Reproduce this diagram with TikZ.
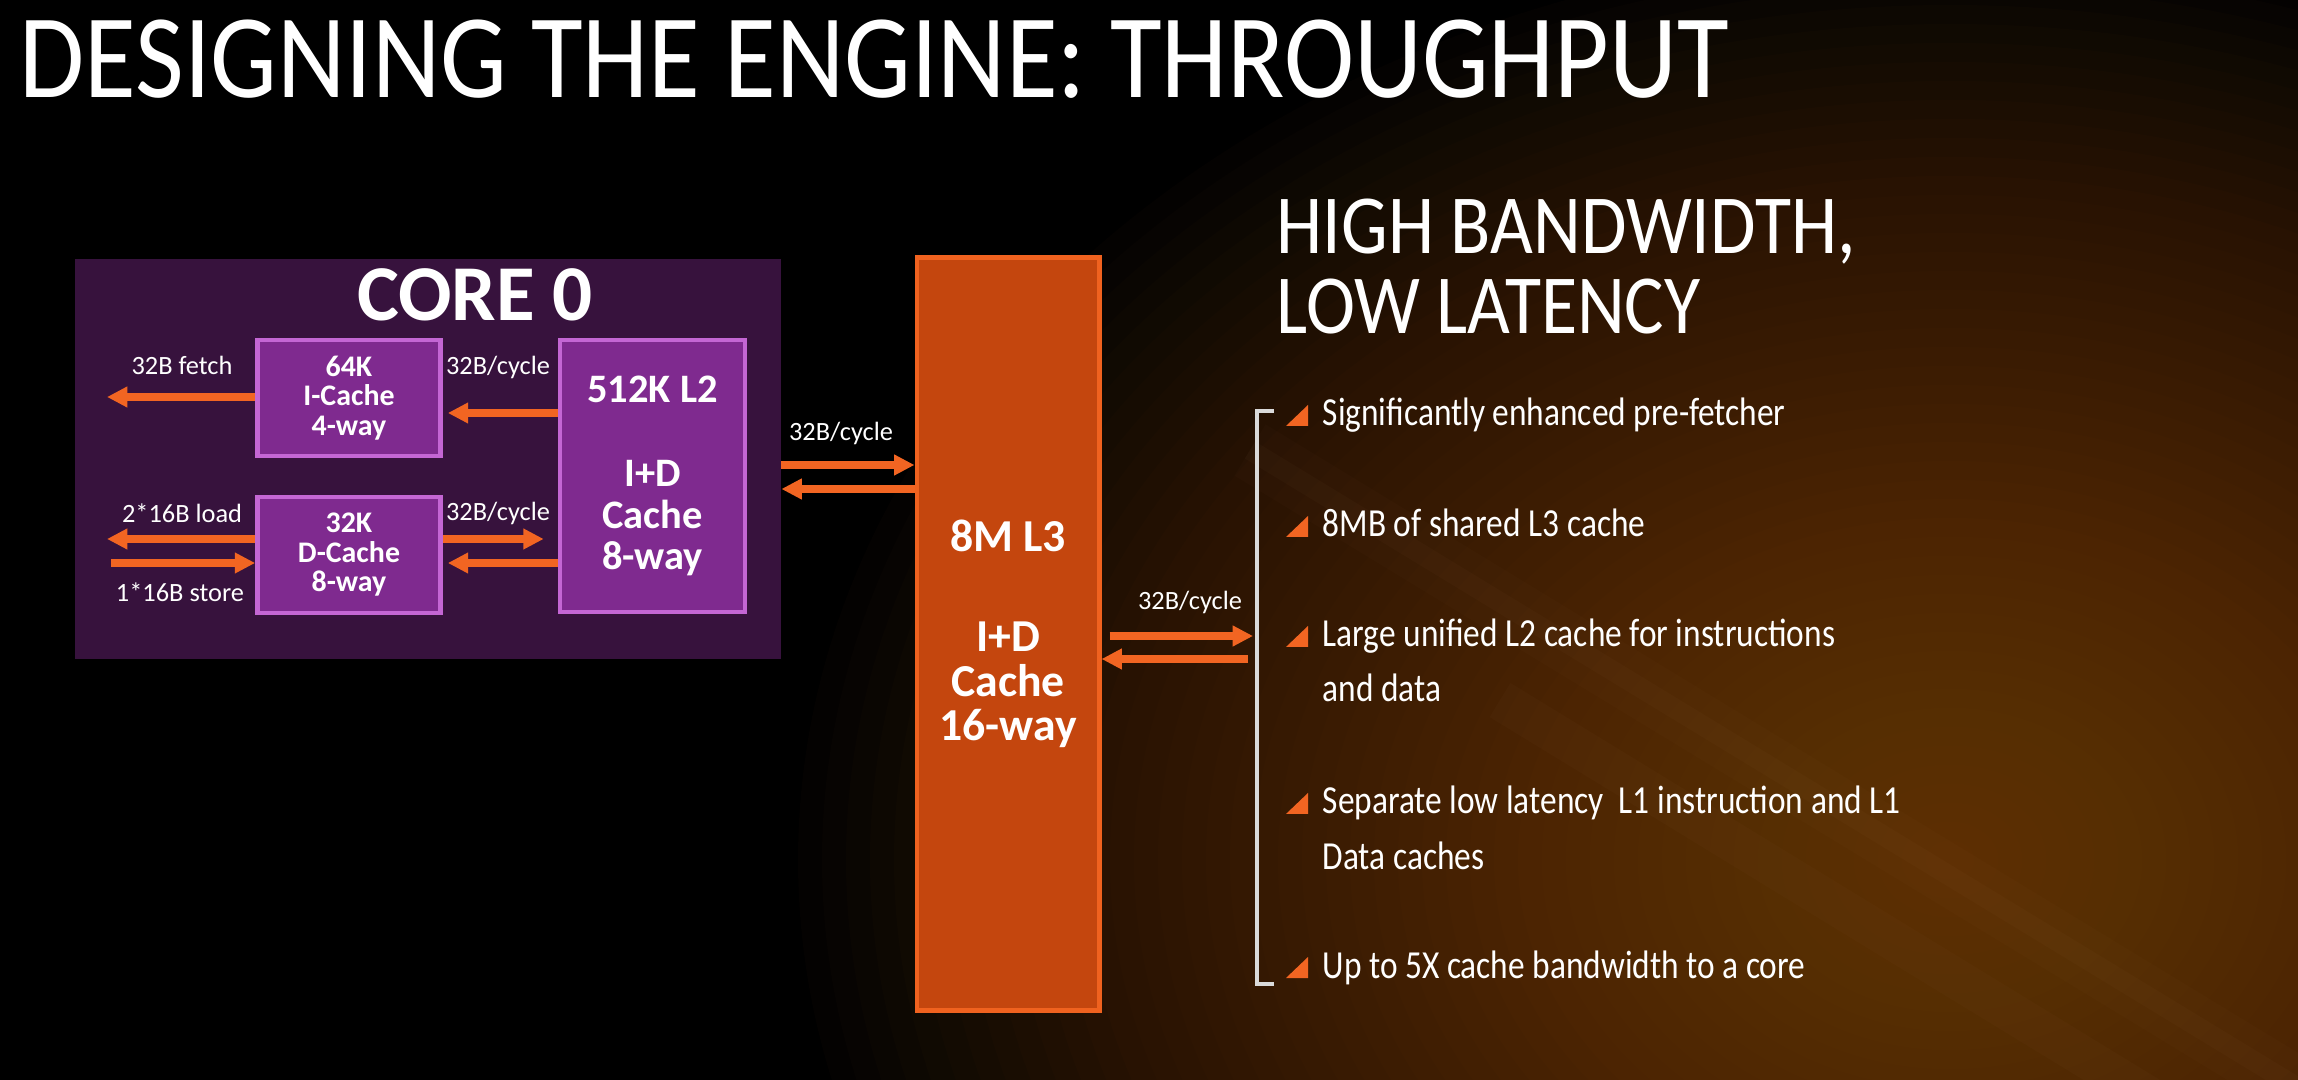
\documentclass[tikz,border=0pt]{standalone}
\usepackage{fontspec}
\setmainfont{Carlito}
\newfontfamily\titlefont[FakeStretch=0.885]{Carlito}
\newfontfamily\headfont[FakeStretch=0.88]{Carlito}
\newfontfamily\slimfont[FakeStretch=0.84]{Carlito}
\usetikzlibrary{arrows.meta,positioning}
\definecolor{CorePlum}{HTML}{37123D}
\definecolor{CachePurple}{HTML}{7F2A8F}
\definecolor{CacheEdge}{HTML}{C466D4}
\definecolor{LThreeFill}{HTML}{C4460E}
\definecolor{LThreeEdge}{HTML}{F0621F}
\definecolor{ArrowOrange}{HTML}{F26522}
\definecolor{BracketGray}{HTML}{DADADA}
\definecolor{GlowHot}{HTML}{945226}
\definecolor{StreakTan}{HTML}{B58A62}

\begin{document}
\begin{tikzpicture}[x=0.01cm, y=-0.01cm,
    cbox/.style={draw=CacheEdge, line width=1.3pt, fill=CachePurple, text=white, align=center, inner sep=0pt},
    lthree/.style={draw=LThreeEdge, line width=1.4pt, fill=LThreeFill, text=white, align=center, inner sep=0pt},
    flow/.style={draw=ArrowOrange, line width=2pt, -{Triangle[length=5.8pt,width=5.6pt]}},
    rate/.style={text=white, inner sep=0pt, font=\fontsize{7.5}{8}\selectfont},
    point/.style={text=white, inner sep=0pt, align=left, anchor=base west, font=\slimfont\fontsize{11.3}{15.7}\selectfont},
    pip/.style={fill=ArrowOrange},
    brk/.style={draw=BracketGray, line width=0.9pt}
  ]
  \useasboundingbox (0,0) rectangle (2298,1080);
  \begin{scope}
    \clip (0,0) rectangle (2298,1080);
    \fill[black] (0,0) rectangle (2298,1080);
    \foreach \k in {1,...,48}
      \fill[GlowHot, opacity=0.026] (1950,860) ellipse ({24*\k} and {19*\k});
    \draw[StreakTan, opacity=0.025, line width=0.6cm] (1250,450) -- (2400,1150);
    \draw[StreakTan, opacity=0.035, line width=0.2cm] (1250,450) -- (2400,1150);
    \draw[StreakTan, opacity=0.03, line width=0.4cm] (1500,700) -- (2400,1250);
  \end{scope}

  \node[text=white, anchor=base west, inner sep=0pt, font=\titlefont\fontsize{34}{38}\selectfont] (title) at (19,98) {DESIGNING THE ENGINE: THROUGHPUT};

  \node[fill=CorePlum, minimum width=7.05cm, minimum height=4.0cm, inner sep=0pt] (core) at (428,459) {};
  \node[text=white, anchor=base, inner sep=0pt, font=\bfseries\fontsize{22.5}{24}\selectfont] (corename) at (475,321) {CORE 0};
  \node[cbox, minimum width=1.83cm, minimum height=1.16cm, font=\bfseries\fontsize{8.5}{8.4}\selectfont] (icache) at (349,398) {64K\\I-Cache\\4-way};
  \node[cbox, minimum width=1.83cm, minimum height=1.16cm, font=\bfseries\fontsize{8.5}{8.4}\selectfont] (dcache) at (349,555) {32K\\D-Cache\\8-way};
  \node[cbox, minimum width=1.85cm, minimum height=2.72cm, font=\bfseries\fontsize{11.5}{11.7}\selectfont] (ltwo) at (652.5,476) {512K L2\\[12.2pt]I+D\\Cache\\8-way};
  \node[lthree, minimum width=1.82cm, minimum height=7.52cm, font=\bfseries\fontsize{13}{12.7}\selectfont] (lthree) at (1008,634) {8M L3\\[15.7pt]I+D\\Cache\\16-way};

  \coordinate (fetchend) at (107,397);
  \coordinate (loadend) at (107,539);
  \coordinate (storestart) at (111,563);
  \coordinate (brtop) at (1257,411);
  \coordinate (brbot) at (1257,984);

  \draw[flow] (icache.west |- 0,397) -- (fetchend);
  \draw[flow, shorten >=0.05cm] (ltwo.west |- 0,413) -- (icache.east |- 0,413);
  \draw[flow] (dcache.west |- 0,539) -- (loadend);
  \draw[flow] (storestart) -- (dcache.west |- 0,563);
  \draw[flow, shorten >=0.14cm] (dcache.east |- 0,539) -- (ltwo.west |- 0,539);
  \draw[flow, shorten >=0.05cm] (ltwo.west |- 0,563) -- (dcache.east |- 0,563);
  \draw[flow] (core.east |- 0,465) -- (lthree.west |- 0,465);
  \draw[flow] (lthree.west |- 0,489) -- (core.east |- 0,489);
  \draw[flow, shorten <=0.08cm, shorten >=0.04cm] (lthree.east |- 0,636) -- (brtop |- 0,636);
  \draw[flow, shorten <=0.09cm] (brtop |- 0,659) -- (lthree.east |- 0,659);

  \node[rate] (fetchlbl) at (182,365) {32B fetch};
  \node[rate] (icyclbl) at (498,367) {32B/cycle};
  \node[rate] (loadlbl) at (182,513) {2*16B load};
  \node[rate] (storelbl) at (180,592) {1*16B store};
  \node[rate] (dcyclbl) at (498,513) {32B/cycle};
  \node[rate] (ltwocyclbl) at (841,433) {32B/cycle};
  \node[rate] (lthreecyclbl) at (1190,602) {32B/cycle};

  \node[text=white, anchor=base west, inner sep=0pt, align=left, font=\headfont\fontsize{23.9}{23}\selectfont] (heading) at (1276,334) {HIGH BANDWIDTH,\\LOW LATENCY};

  \draw[brk] ([xshift=0.17cm]brtop) -- (brtop) -- (brbot) -- ([xshift=0.17cm]brbot);

  \node[point] (p1) at (1322,426) {Significantly enhanced pre-fetcher};
  \node[point] (p2) at (1322,537) {8MB of shared L3 cache};
  \node[point] (p3) at (1322,702) {Large unified L2 cache for instructions\\and data};
  \node[point] (p4) at (1322,869) {Separate low latency~ L1 instruction and L1\\Data caches};
  \node[point] (p5) at (1322,978) {Up to 5X cache bandwidth to a core};

  \fill[pip] ([xshift=-0.14cm]p1.base west) -- ++(-22,0) -- ++(22,-21) -- cycle;
  \fill[pip] ([xshift=-0.14cm]p2.base west) -- ++(-22,0) -- ++(22,-21) -- cycle;
  \fill[pip] ([xshift=-0.14cm, yshift=0.55cm]p3.base west) -- ++(-22,0) -- ++(22,-21) -- cycle;
  \fill[pip] ([xshift=-0.14cm, yshift=0.55cm]p4.base west) -- ++(-22,0) -- ++(22,-21) -- cycle;
  \fill[pip] ([xshift=-0.14cm]p5.base west) -- ++(-22,0) -- ++(22,-21) -- cycle;
\end{tikzpicture}
\end{document}
